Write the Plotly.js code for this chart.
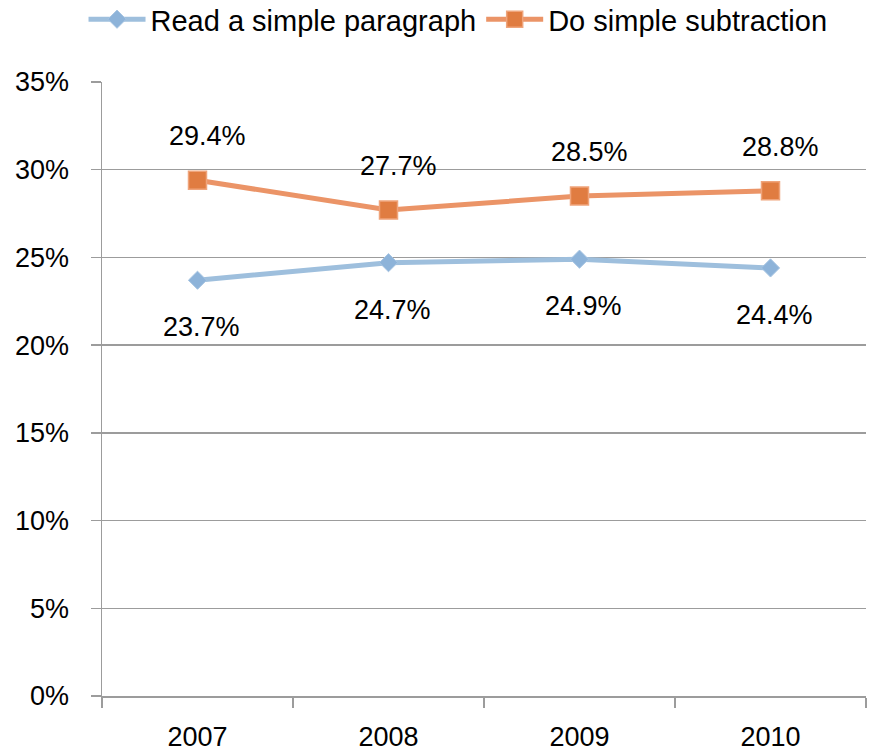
<!DOCTYPE html>
<html>
<head>
<meta charset="utf-8">
<script src="https://cdn.plot.ly/plotly-3.0.1.min.js"></script>
<style>
html,body{margin:0;padding:0;background:#fff;}
#chart{width:872px;height:751px;}
</style>
</head>
<body>
<div id="chart"></div>
<script>
const years = ['2007', '2008', '2009', '2010'];
const readParagraph = [0.237, 0.247, 0.249, 0.244];
const simpleSubtraction = [0.294, 0.277, 0.285, 0.288];
const seriesNames = ['Read a simple paragraph', 'Do simple subtraction'];

const FONT = 'Liberation Sans, Arial, sans-serif';
const GRID = '#9c9c9c';

const traces = [
  {
    x: years, y: readParagraph, name: seriesNames[0], type: 'scatter', mode: 'lines+markers',
    line: {color: '#9ebfdd', width: 5},
    marker: {symbol: 'diamond', size: 14, color: '#8db3d9', line: {color: '#a6c4e2', width: 1}}
  },
  {
    x: years, y: simpleSubtraction, name: seriesNames[1], type: 'scatter', mode: 'lines+markers',
    line: {color: '#eb9467', width: 5},
    marker: {symbol: 'square', size: 18, color: '#e07c41', line: {color: '#efa47b', width: 1.5}}
  }
];

const fmt = v => (v * 100).toFixed(1) + '%';
const annotations = [];
years.forEach((yr, i) => {
  annotations.push({x: i, y: simpleSubtraction[i], text: fmt(simpleSubtraction[i]), showarrow: false,
    xref: 'x', yref: 'y', yshift: 44, xshift: 10, font: {size: 27, color: '#000000'}});
  annotations.push({x: i, y: readParagraph[i], text: fmt(readParagraph[i]), showarrow: false,
    xref: 'x', yref: 'y', yshift: -47, xshift: 4, font: {size: 27, color: '#000000'}});
});

const layout = {
  width: 872, height: 751,
  margin: {l: 102, r: 6, t: 82, b: 55, autoexpand: false},
  paper_bgcolor: '#fff', plot_bgcolor: '#fff',
  font: {family: FONT, size: 27, color: '#000'},
  showlegend: true,
  legend: {orientation: 'h', x: 0.466, xanchor: 'center', y: 1.102, yanchor: 'middle',
    font: {family: FONT, size: 29, color: '#000'}, itemwidth: 57},
  xaxis: {
    type: 'category', range: [-0.5, 3.5], tickson: 'boundaries',
    ticks: 'outside', ticklen: 10, tickcolor: GRID, tickwidth: 1.5,
    showline: true, linecolor: GRID, linewidth: 1.5,
    showgrid: false, zeroline: false, ticklabelstandoff: 16,
    tickfont: {family: FONT, size: 27, color: '#000'}
  },
  yaxis: {
    range: [0, 0.35], dtick: 0.05, tickformat: '.0%',
    ticks: 'outside', ticklen: 10, tickcolor: GRID, tickwidth: 1.5,
    showline: true, linecolor: GRID, linewidth: 1.5,
    showgrid: true, gridcolor: GRID, gridwidth: 1.5, zeroline: false, ticklabelstandoff: 16,
    tickfont: {family: FONT, size: 27, color: '#000'}
  },
  annotations: annotations
};

Plotly.newPlot('chart', traces, layout, {displayModeBar: false, staticPlot: true});
</script>
</body>
</html>
